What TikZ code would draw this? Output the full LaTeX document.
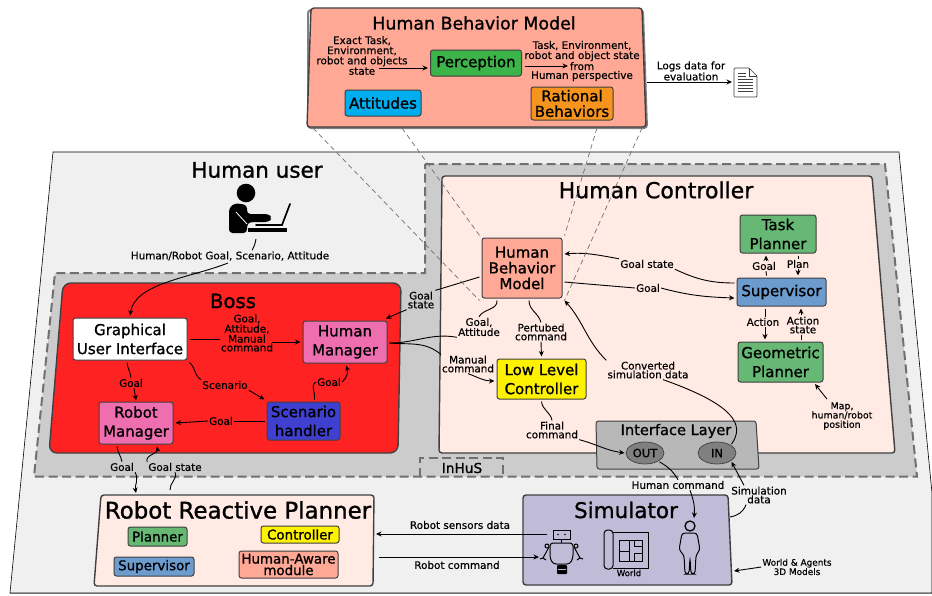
\documentclass[tikz,border=0pt]{standalone}
\usepackage{fontspec}
\setmainfont{DejaVu Sans}[FakeBold=0.5]
\newfontfamily\heavyfont{DejaVu Sans}[FakeBold=1.1]
\usetikzlibrary{arrows.meta,positioning,shapes.geometric}

\definecolor{usergray}{HTML}{F0F0F0}
\definecolor{inhusgray}{HTML}{CCCCCC}
\definecolor{dashgray}{HTML}{707070}
\definecolor{edgegray}{HTML}{404040}
\definecolor{bossred}{HTML}{FF2222}
\definecolor{salmonbox}{HTML}{FFA896}
\definecolor{palebox}{HTML}{FFEAE4}
\definecolor{pinkbox}{HTML}{EE6EB0}
\definecolor{greenbox}{HTML}{66B874}
\definecolor{bluebox}{HTML}{6C9BCE}
\definecolor{indigobox}{HTML}{4040D0}
\definecolor{simbox}{HTML}{C0BCD8}
\definecolor{ifacebox}{HTML}{B8B8B8}
\definecolor{ovalgray}{HTML}{808080}
\definecolor{perceptbox}{HTML}{3CB44A}
\definecolor{attitudebox}{HTML}{00AEEF}
\definecolor{orangebox}{HTML}{F7941D}

\newcommand{\fsz}[2]{\fontsize{#1}{#2}\selectfont}

\tikzset{
    panel/.style={draw=edgegray,line width=1.4pt,rounded corners=3pt},
    boxnode/.style={draw=edgegray,line width=1pt,rounded corners=2.5pt,align=center,inner sep=0pt,outer sep=2.5pt,font=\heavyfont\fsz{15}{19}},
    smallbox/.style={boxnode,font=\heavyfont\fsz{13.4}{11}},
    lbl/.style={align=center,inner sep=1pt,font=\fsz{10.4}{8.8}},
    title/.style={inner sep=0pt,font=\heavyfont\fsz{21.5}{24}},
    portoval/.style={ellipse,draw=edgegray,fill=ovalgray,line width=0.7pt,minimum width=38pt,minimum height=22pt,inner sep=0pt,outer sep=1.5pt,font=\heavyfont\fsz{11.5}{12}},
    link/.style={black,line width=0.9pt},
    arrowlink/.style={link,-{Stealth[length=5.5pt,width=5pt]}},
    projection/.style={dashgray,line width=0.7pt,dash pattern=on 5pt off 3.5pt},
    zonedash/.style={draw=dashgray,line width=2pt,dash pattern=on 9pt off 4.5pt},
    icon/.style={black,line width=1pt},
}

\begin{document}
\begin{tikzpicture}[x=1pt,y=-1pt]
    \useasboundingbox (0,0) rectangle (932,595);

    % background zones
    \draw[fill=usergray,line width=0.6pt] (53,152) -- (899,152) -- (932,493) -- (932,593) -- (10,593) -- cycle;
    \draw[dashgray,line width=1.4pt] (10,593.5) -- (932,593.5);
    \draw[fill=inhusgray,zonedash]
        (425,164) -- (885,164) -- (917,476.5) -- (34,476.5) -- (55,273) -- (425,273) -- cycle;
    \draw[zonedash] (420,476.5) -- (420,458) -- (503,458) -- (503,476.5);
    \node[inner sep=0pt,font=\heavyfont\fsz{13.7}{14}] (inhus) at (462,468) {InHuS};

    % behaviour model on top
    \draw[gray,line width=2pt,rounded corners=3pt] (308,10) -- (643,10) -- (647,128) -- (308,128) -- cycle;
    \draw[panel,fill=salmonbox] (311,8) -- (642,8) -- (646,127) -- (307,127) -- cycle;
    \coordinate (topA) at (313,128);
    \coordinate (topB) at (402,128);
    \coordinate (topC) at (597,128);
    \coordinate (topD) at (642,128);
    \coordinate (topE) at (647,82);
    \node[title,font=\heavyfont\fsz{17.4}{20}] (hbmtitle) at (474,23) {Human Behavior Model};
    \node[boxnode,fill=perceptbox,minimum width=91pt,minimum height=26pt] (perception) at (476,63) {Perception};
    \node[boxnode,fill=attitudebox,minimum width=76pt,minimum height=26pt] (attitudes) at (383,103) {Attitudes};
    \node[boxnode,fill=orangebox,minimum width=82pt,minimum height=33pt,font=\heavyfont\fsz{15}{15.5}] (rational) at (572,103.5) {Rational\\Behaviors};
    \node[lbl] (exactlbl) at (362,55.5) {Exact Task,\\Environment,\\robot and objects\\state};
    \node[lbl] (perspectlbl) at (582,61) {Task, Environment,\\robot and object state\\from\\Human perspective};
    \node[lbl] (logslbl) at (691,71) {Logs data for\\evaluation};
    \coordinate (percfrom) at (525,66);
    \coordinate (percto) at (568,66);
    \draw[arrowlink] (379,68) -- (perception.west |- 0,68);
    \draw[arrowlink] (percfrom) -- (percto);

    % log file
    \coordinate (docleft) at (732,82);
    \draw[arrowlink] (topE) -- (docleft);
    \draw[edgegray,fill=white,line width=0.7pt,rounded corners=1pt]
        (734,68) -- (749,68) -- (757,76) -- (757,97) -- (734,97) -- cycle;
    \draw[edgegray,line width=0.6pt] (749,68) -- (749,76) -- (757,76);
    \foreach \yy in {73,76,79,82,85,88,91}
        \draw[edgegray,line width=0.6pt] (738,\yy) -- (\ifnum\yy<77 746\else 753\fi,\yy);

    % human user
    \node[title] (usertitle) at (257,170) {Human user};
    \fill[black] (246,193) circle (9.3);
    \fill[black,rounded corners=3.5pt] (229,233) -- (229,208) -- (235,203) -- (247,205) -- (247,214) -- (269,214) -- (272,218) -- (269,222) -- (250,222) -- (247,224) -- (247,233) -- cycle;
    \draw[white,line width=0.8pt] (236,212) -- (247,224);
    \fill[black] (248,228) rectangle (287,232);
    \draw[black,line width=1.7pt,line cap=round] (290,204) -- (282,225) -- (256,225);
    \coordinate (userdesk) at (256,239);
    \node[lbl] (userlbl) at (230,256) {Human/Robot Goal, Scenario, Attitude};

    % boss
    \draw[panel,fill=bossred,rounded corners=8pt] (63,283) -- (401,283) -- (398,453) -- (49,453) -- cycle;
    \node[title,font=\heavyfont\fsz{19.7}{22}] (bosstitle) at (233,301) {Boss};
    \node[boxnode,fill=white,minimum width=114pt,minimum height=42pt] (gui) at (130,339) {Graphical\\User Interface};
    \node[boxnode,fill=pinkbox,minimum width=84pt,minimum height=42pt] (hmanager) at (345,342) {Human\\Manager};
    \node[boxnode,fill=pinkbox,minimum width=74pt,minimum height=42pt] (rmanager) at (136,423) {Robot\\Manager};
    \node[boxnode,fill=indigobox,minimum width=73pt,minimum height=38pt] (scenario) at (303.5,421) {Scenario\\handler};
    \node[lbl] (guihmlbl) at (247,333) {Goal,\\Attitude,\\Manual\\command};
    \node[lbl] (guirmlbl) at (131,383) {Goal};
    \node[lbl] (scenlbl) at (225,385) {Scenario};
    \node[lbl] (schmlbl) at (329,382) {Goal};
    \node[lbl] (scrmlbl) at (221,421) {Goal};
    \draw[link] (userdesk) to[out=-100,in=60] (userlbl.north -| 252,0);
    \draw[arrowlink] (228,263) .. controls (190,278) and (135,283) .. (gui.north);
    \draw[link] (gui.east) -- (guihmlbl.west |- gui.east);
    \draw[arrowlink] (272,342) -- (hmanager.west);
    \draw[link] ([xshift=-3pt]gui.south) to[out=-85,in=95] (guirmlbl.north);
    \draw[arrowlink] (guirmlbl.south -| 134,0) -- ([yshift=-1pt]rmanager.north);
    \draw[link] (gui.south east) to[out=-40,in=150] (scenlbl.north west);
    \draw[arrowlink] (scenlbl.south east) -- (scenario.north west);
    \draw[link] ([xshift=11pt]scenario.north) to[out=80,in=-150] (schmlbl.west);
    \draw[arrowlink] (schmlbl.east) to[out=40,in=-70] ([xshift=1pt]hmanager.south);
    \draw[link] (scenario.west) -- (scrmlbl.east);
    \draw[arrowlink] (scrmlbl.west) -- (rmanager.east);

    % robot planner
    \draw[panel,fill=palebox] (101,495) -- (374,495) -- (373,586) -- (94,586) -- cycle;
    \coordinate (rrpin) at (136,493);
    \coordinate (rrpout) at (170,490);
    \coordinate (rrpeasttop) at (376,534);
    \coordinate (rrpeastlow) at (379,557);
    \node[title,font=\heavyfont\fsz{22.9}{24}] (rrptitle) at (238,510) {Robot Reactive Planner};
    \node[smallbox,fill=greenbox,minimum width=59pt,minimum height=19pt] (rrpplanner) at (157.5,536.5) {Planner};
    \node[smallbox,fill=yellow,minimum width=78pt,minimum height=17pt] (rrpcontrol) at (300,534.5) {Controller};
    \node[smallbox,fill=bluebox,minimum width=80pt,minimum height=19pt] (rrpsuper) at (154,566.5) {Supervisor};
    \node[smallbox,fill=salmonbox,minimum width=99pt,minimum height=27pt,font=\heavyfont\fsz{13.4}{11.5}] (rrpaware) at (288.5,564.5) {Human-Aware\\module};
    \node[lbl] (rmrrplbl) at (122,467) {Goal};
    \node[lbl] (rrprmlbl) at (175,467) {Goal state};
    \draw[link] ([xshift=-19pt]rmanager.south) to[out=-85,in=100] (rmrrplbl.north);
    \draw[arrowlink] (rmrrplbl.south east) to[out=-60,in=100] (rrpin);
    \draw[link] (rrpout) to[out=95,in=-65] (rrprmlbl.south);
    \draw[arrowlink] (rrprmlbl.north west) to[out=110,in=-80] ([xshift=21pt]rmanager.south);

    % human controller
    \draw[panel,fill=palebox] (442,176) -- (872,176) -- (895,453) -- (439,453) -- cycle;
    \node[title,font=\heavyfont\fsz{22}{24}] (hctitle) at (656,190) {Human Controller};
    \node[boxnode,fill=salmonbox,minimum width=80pt,minimum height=60pt,font=\heavyfont\fsz{15}{15.7}] (hbm) at (522,268) {Human\\Behavior\\Model};
    \node[boxnode,fill=yellow,minimum width=89pt,minimum height=40pt] (llc) at (541.5,379) {Low Level\\Controller};
    \node[boxnode,fill=greenbox,minimum width=76pt,minimum height=38pt] (taskpl) at (778,234) {Task\\Planner};
    \node[boxnode,fill=bluebox,minimum width=89pt,minimum height=28pt] (super) at (781.5,292) {Supervisor};
    \node[boxnode,fill=greenbox,minimum width=85pt,minimum height=40pt] (geompl) at (780.5,362) {Geometric\\Planner};
    \coordinate (geomin) at (815,384);
    \node[lbl] (hbmhmlbl) at (421,300) {Goal\\state};
    \node[lbl] (attlbl) at (479,327) {Goal,\\Attitude};
    \node[lbl] (manlbl) at (468,364) {Manual\\command};
    \node[lbl] (pertlbl) at (541,332) {Pertubed\\command};
    \node[lbl] (gstlbl) at (647,264) {Goal state};
    \node[lbl] (goallbl) at (648,288) {Goal};
    \node[lbl] (sutalbl) at (764,266) {Goal};
    \node[lbl] (tasulbl) at (798,264) {Plan};
    \node[lbl] (actlbl) at (763,322) {Action};
    \node[lbl] (actstlbl) at (803,325) {Action\\state};
    \node[lbl,font=\fsz{9.4}{9.3}] (maplbl) at (842,416) {Map,\\human/robot\\position};
    \node[lbl] (convlbl) at (648,370) {Converted\\simulation data};
    \node[lbl] (finallbl) at (552,430) {Final\\command};
    \draw[link] ([yshift=-9pt]hbm.west) -- (hbmhmlbl.north east);
    \draw[arrowlink] (hbmhmlbl.south west) -- ([xshift=41pt]hmanager.north);
    \draw[link] ([yshift=-1pt]hmanager.east) to[out=0,in=170] (attlbl.south west);
    \draw[link] ([xshift=-25pt]hbm.south) to[out=-85,in=60] (attlbl.north);
    \draw[link] ([yshift=-1pt]hmanager.east) to[out=-5,in=140] (manlbl.north west);
    \draw[arrowlink] (manlbl.south) to[out=-20,in=180] ([yshift=-2pt]llc.west);
    \draw[link] ([xshift=7pt]hbm.south) to[out=-90,in=105] (pertlbl.north);
    \draw[arrowlink] (pertlbl.south) -- (llc.north);
    \draw[link] ([yshift=9pt]super.west) to[out=180,in=-25] (gstlbl.south east);
    \draw[arrowlink] (gstlbl.north west) to[out=170,in=5] ([yshift=14pt]hbm.east);
    \draw[link] ([yshift=-14pt]hbm.east) to[out=-5,in=175] (goallbl.west);
    \draw[arrowlink] (goallbl.east) to[out=-15,in=178] ([yshift=-6pt]super.west);
    \draw[link] ([xshift=-15pt]super.north) -- (sutalbl.south -| 766,0);
    \draw[arrowlink] (sutalbl.north -| 766,0) -- ([xshift=-12pt]taskpl.south);
    \draw[link] ([xshift=20pt]taskpl.south) -- (tasulbl.north);
    \draw[arrowlink] (tasulbl.south) -- ([xshift=16.5pt]super.north);
    \draw[link] ([xshift=-16.5pt]super.south) -- (actlbl.north -| 765,0);
    \draw[arrowlink] (actlbl.south -| 765,0) -- ([xshift=-15.5pt]geompl.north);
    \draw[link] ([xshift=20.5pt]geompl.north) -- (actstlbl.south -| 801,0);
    \draw[arrowlink] (actstlbl.north -| 801,0) -- ([xshift=19.5pt]super.south);
    \draw[arrowlink] (maplbl.north) ++(-15,-2) -- (geomin);

    % interface layer
    \draw[edgegray,fill=ifacebox,line width=1pt,rounded corners=2.5pt] (596,421) -- (756,421) -- (759,469) -- (597,469) -- cycle;
    \node[inner sep=0pt,font=\heavyfont\fsz{14.6}{15}] (iftitle) at (676,431) {Interface Layer};
    \node[portoval] (ifout) at (645,453) {OUT};
    \node[portoval] (ifin) at (717,453) {IN};
    \draw[arrowlink] (convlbl.north west) to[out=135,in=-48] (hbm.south east);
    \draw[link] (ifin.north east) .. controls (745,425) and (735,405) .. (convlbl.south -| 663,0);
    \draw[link] ([xshift=0pt]llc.south) to[out=-85,in=100] (finallbl.north);
    \draw[arrowlink] (finallbl.south east) to[out=-15,in=172] (ifout.west);

    % simulator
    \draw[panel,fill=simbox] (523,495) -- (728,495) -- (732,585) -- (523,585) -- cycle;
    \coordinate (simeast) at (730,517);
    \coordinate (simlow) at (734,571);
    \node[title] (simtitle) at (626,510) {Simulator};
    \node[lbl] (humcmdlbl) at (678,485) {Human command};
    \node[lbl] (simlbl) at (759,495) {Simulation\\data};
    \node[lbl] (senslbl) at (460,525) {Robot sensors data};
    \node[lbl] (rcmdlbl) at (457,565) {Robot command};
    \node[lbl,font=\fsz{8.9}{9.3}] (modlbl) at (797,567) {World \& Agents\\3D Models};
    \node[lbl,font=\fsz{8.5}{9}] (worldlbl) at (629,573) {World};

    % robot figure
    \coordinate (robothead) at (547,534);
    \coordinate (robotarm) at (539,557);
    \draw[icon] (553,530) rectangle (570,539);
    \fill[black] (558,534.5) circle (0.8) (565,534.5) circle (0.8);
    \draw[icon] (561.5,539) -- (561.5,543);
    \draw[icon,rounded corners=3pt] (550,543) -- (573,543) -- (573,558) -- (570,564) -- (553,564) -- (550,558) -- cycle;
    \draw[icon] (549,547) -- (543,558) (574,547) -- (580,558);
    \draw[icon] (547,546) circle (2) (576,546) circle (2);
    \draw[icon] (540,559) -- (543,558) -- (546,560) (577,560) -- (580,558) -- (583,559);
    \fill[black,rounded corners=1pt] (557,565) rectangle (567,574);
    \draw[simbox,line width=0.8pt] (558,569.5) -- (566,569.5);

    % world map
    \draw[icon,rounded corners=3.5pt] (604,530) rectangle (613,569);
    \draw[icon] (613,532) -- (648,532) -- (648,568) -- (613,568);
    \draw[icon] (619,540) rectangle (642,561);
    \draw[icon] (619,551) -- (629,551) (629,540) -- (629,561) (634,540) -- (634,546) -- (642,546) (634,561) -- (634,553) -- (642,553);

    % person figure
    \coordinate (personhead) at (694,518);
    \draw[icon,line width=1.3pt] (690,526) circle (5);
    \draw[icon,rounded corners=3pt] (682,533) -- (697,533) -- (700,550) -- (696,555) -- (695,574) -- (691,574) -- (690,558) -- (689,574) -- (685,574) -- (684,555) -- (679,550) -- cycle;

    \draw[link] (ifout.south east) to[out=-30,in=120] (humcmdlbl.north);
    \draw[arrowlink] (humcmdlbl.south -| 690,0) to[out=-70,in=85] (personhead);
    \draw[link] (simeast) to[out=10,in=-110] (simlbl.south -| 746,0);
    \draw[arrowlink] (simlbl.north -| 744,0) -- (ifin.south east);
    \draw[arrowlink] (robothead) -- (rrpeasttop);
    \draw[arrowlink] (rrpeastlow) -- (robotarm);
    \draw[arrowlink] (modlbl.west) -- (simlow);

    % projection lines
    \draw[projection] (topA) -- (hbm.south west);
    \draw[projection] (topB) -- (hbm.north west);
    \draw[projection] (topC) -- (hbm.north east);
    \draw[projection] (topD) -- (hbm.south east);
\end{tikzpicture}
\end{document}
